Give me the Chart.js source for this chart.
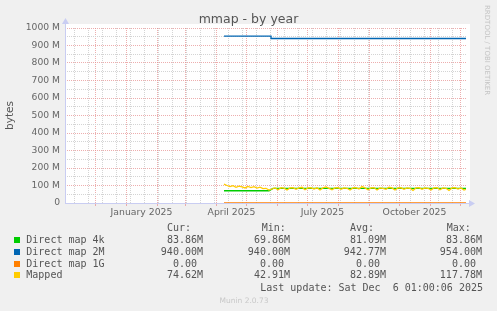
<!DOCTYPE html>
<html>
<head>
<meta charset="utf-8">
<title>mmap - by year</title>
<script src="https://cdn.jsdelivr.net/npm/chart.js@4.4.1/dist/chart.umd.min.js"></script>
<style>
  html, body { margin: 0; padding: 0; background: #f0f0f0; }
  #wrap { position: relative; width: 497px; height: 311px; overflow: hidden; }
  #chart { position: absolute; left: 0; top: 0; }
  .mono { position: absolute; white-space: pre; color: #555; font-family: "DejaVu Sans Mono", monospace; font-size: 10px; line-height: 12px; }
  .right { text-align: right; }
  .swatch { position: absolute; width: 6px; height: 6px; }
  #title { position: absolute; left: 0; width: 497px; top: 11px; text-align: center; font-family: "DejaVu Sans", sans-serif; font-size: 12.5px; color: #555; }
  #rrd { position: absolute; left: 483px; top: 5px; writing-mode: vertical-rl; font-family: "DejaVu Sans", sans-serif; font-size: 7px; color: #c4c4c4; }
  #munin { position: absolute; left: 0; width: 488px; top: 296px; text-align: center; font-family: "DejaVu Sans", sans-serif; font-size: 7.5px; color: #c8c8c8; }
</style>
</head>
<body>
<div id="wrap">
  <canvas id="chart" width="497" height="311"></canvas>
  <div id="title">mmap - by year</div>
  <div id="rrd">RRDTOOL / TOBI OETIKER</div>
  <div id="munin">Munin 2.0.73</div>
</div>
<script>
// x axis is in days since Nov 1 2024 (the start of the 400 day window)
var labelDays = [76.5, 166.5, 257.5, 349.5];
var labelTexts = ['January 2025', 'April 2025', 'July 2025', 'October 2025'];
var monthDays = [30, 61, 92, 120, 151, 181, 212, 242, 273, 304, 334, 365, 395];
var minorDays = [9, 23, 37, 51, 65, 79, 93, 107, 121, 135, 149, 163, 177, 191, 205, 219, 233, 247, 261, 275, 289, 303, 317, 331, 345, 359, 373, 387];
var yTicks = [0, 50, 100, 150, 200, 250, 300, 350, 400, 450, 500, 550, 600, 650, 700, 750, 800, 850, 900, 950, 1000];

// series values in M (bytes / 1e6)
var days4k = [159, 204, 208, 401];
var direct4k = [69.86, 69.86, 83.86, 83.86];
var days2M = [159, 206, 206, 401];
var direct2M = [954, 954, 940, 940];
var days1G = [159, 401];
var direct1G = [0, 0];
var mappedDays = [159, 162, 165, 168, 171, 174, 177, 180, 183, 186, 189, 192, 195, 198, 201, 204,
  207, 210, 213, 216, 219, 222, 225, 228, 231, 234, 237, 240, 243, 246, 249, 252, 255, 258, 261, 264,
  267, 270, 273, 276, 279, 282, 285, 288, 291, 294, 297, 300, 303, 306, 309, 312, 315, 318, 321, 324,
  327, 330, 333, 336, 339, 342, 345, 348, 351, 354, 357, 360, 363, 366, 369, 372, 375, 378, 381, 384,
  387, 390, 393, 396, 399, 401];
var mapped = [108, 100, 94, 99, 90, 96, 92, 86, 95, 88, 93, 85, 90, 82, 84, 74,
  80, 86, 76, 88, 85, 74, 86, 88, 78, 86, 90, 76, 86, 88, 80, 87, 74, 86, 92, 84,
  76, 86, 88, 78, 86, 84, 74, 86, 88, 80, 94, 86, 76, 86, 88, 74, 86, 84, 78, 90,
  86, 74, 86, 88, 78, 86, 84, 72, 86, 88, 78, 86, 84, 74, 86, 88, 76, 86, 84, 72,
  86, 88, 80, 86, 74, 78];

// legend table
var names = ['Direct map 4k', 'Direct map 2M', 'Direct map 1G', 'Mapped'];
var colors = ['#00cc00', '#0066b3', '#ff8000', '#ffcc00'];
var curVals = ['83.86M', '940.00M', '0.00 ', '74.62M'];
var minVals = ['69.86M', '940.00M', '0.00 ', '42.91M'];
var avgVals = ['81.09M', '942.77M', '0.00 ', '82.89M'];
var maxVals = ['83.86M', '954.00M', '0.00 ', '117.78M'];
var lastUpdate = 'Last update: Sat Dec  6 01:00:06 2025';

function pts(xs, ys) {
  return xs.map(function (x, i) { return { x: x, y: ys[i] }; });
}

var axisColor = '#c9cdf2';
var majorGrid = 'rgba(230,140,140,0.7)';
var minorGrid = '#d4d4d4';

var bgPlugin = {
  id: 'rrdFrame',
  beforeDraw: function (chart) {
    var a = chart.chartArea, c = chart.ctx;
    c.save();
    c.fillStyle = '#ffffff';
    c.fillRect(a.left, a.top - 4, a.right - a.left + 4, a.bottom - a.top + 4);
    c.restore();
  },
  afterDraw: function (chart) {
    var a = chart.chartArea, c = chart.ctx;
    c.save();
    c.strokeStyle = axisColor;
    c.fillStyle = axisColor;
    c.lineWidth = 1;
    c.beginPath();
    c.moveTo(a.left + 0.5, a.bottom);
    c.lineTo(a.left + 0.5, a.top - 5);
    c.moveTo(a.left, a.bottom + 0.5);
    c.lineTo(a.right + 5, a.bottom + 0.5);
    c.stroke();
    c.beginPath();
    c.moveTo(a.left - 3, a.top - 4);
    c.lineTo(a.left + 4, a.top - 4);
    c.lineTo(a.left + 0.5, a.top - 10);
    c.closePath();
    c.fill();
    c.beginPath();
    c.moveTo(a.right + 3, a.bottom - 3);
    c.lineTo(a.right + 3, a.bottom + 4);
    c.lineTo(a.right + 9, a.bottom + 0.5);
    c.closePath();
    c.fill();
    c.restore();
  }
};

function line(label, data, color, order) {
  return {
    label: label,
    data: data,
    borderColor: color,
    backgroundColor: color,
    borderWidth: 1.3,
    pointRadius: 0,
    tension: 0,
    fill: false,
    order: order
  };
}

var ctx = document.getElementById('chart').getContext('2d');
new Chart(ctx, {
  type: 'line',
  data: {
    datasets: [
      line(names[0], pts(days4k, direct4k), colors[0], 3),
      line(names[1], pts(days2M, direct2M), colors[1], 2),
      line(names[2], pts(days1G, direct1G), colors[2], 1),
      line(names[3], pts(mappedDays, mapped), colors[3], 0)
    ]
  },
  options: {
    responsive: false,
    animation: false,
    events: [],
    layout: { padding: { left: 0, top: 28, right: 31, bottom: 88 } },
    plugins: { legend: { display: false }, tooltip: { enabled: false }, title: { display: false } },
    scales: {
      x: {
        type: 'linear',
        min: 0,
        max: 401,
        afterBuildTicks: function (s) {
          var all = monthDays.concat(minorDays, labelDays).sort(function (p, q) { return p - q; });
          s.ticks = all.map(function (v) { return { value: v }; });
        },
        afterFit: function (s) { s.height = 20; },
        grid: {
          drawTicks: true,
          tickLength: 3,
          color: function (c) {
            var v = c.tick ? c.tick.value : null;
            if (monthDays.indexOf(v) >= 0) return majorGrid;
            if (minorDays.indexOf(v) >= 0) return minorGrid;
            return 'rgba(0,0,0,0)';
          },
          tickColor: function (c) {
            var v = c.tick ? c.tick.value : null;
            return monthDays.indexOf(v) >= 0 ? majorGrid : 'rgba(0,0,0,0)';
          }
        },
        border: { display: false, dash: [1, 1] },
        ticks: {
          autoSkip: false,
          maxRotation: 0,
          padding: 1,
          color: '#666',
          font: { family: 'DejaVu Sans', size: 9.3 },
          callback: function (v) {
            var i = labelDays.indexOf(v);
            return i >= 0 ? labelTexts[i] : '';
          }
        }
      },
      y: {
        min: 0,
        max: 1000,
        afterBuildTicks: function (s) {
          s.ticks = yTicks.map(function (v) { return { value: v }; });
        },
        afterFit: function (s) { s.width = 65; },
        grid: {
          drawTicks: false,
          color: function (c) {
            var v = c.tick ? c.tick.value : 0;
            return v % 100 === 0 ? majorGrid : minorGrid;
          }
        },
        border: { display: false, dash: [1, 1] },
        title: {
          display: true,
          text: 'bytes',
          color: '#555',
          font: { family: 'DejaVu Sans', size: 10.5 },
          padding: { top: 4, bottom: 0 }
        },
        ticks: {
          autoSkip: false,
          padding: 5,
          color: '#666',
          font: { family: 'DejaVu Sans', size: 9.2 },
          callback: function (v) {
            if (v % 100 !== 0) return '';
            return v === 0 ? '0' : v + ' M';
          }
        }
      }
    }
  },
  plugins: [bgPlugin]
});

// legend below the graph, laid out like rrdtool's gprint columns
var wrap = document.getElementById('wrap');
function put(text, left, top, rightEdge) {
  var d = document.createElement('div');
  d.className = 'mono' + (rightEdge ? ' right' : '');
  d.textContent = text;
  d.style.top = top + 'px';
  if (rightEdge) { d.style.left = (rightEdge - 260) + 'px'; d.style.width = '260px'; }
  else d.style.left = left + 'px';
  wrap.appendChild(d);
}
var headTop = 221.5;
put('Cur:', 167, headTop);
put('Min:', 261.7, headTop);
put('Avg:', 350, headTop);
put('Max:', 446.7, headTop);
var rowTops = [234, 246, 257.7, 269.3];
names.forEach(function (n, i) {
  var sw = document.createElement('div');
  sw.className = 'swatch';
  sw.style.left = '14px';
  sw.style.top = (rowTops[i] + 3) + 'px';
  sw.style.background = colors[i];
  wrap.appendChild(sw);
  put(n, 26.3, rowTops[i]);
  put(curVals[i], 0, rowTops[i], 203);
  put(minVals[i], 0, rowTops[i], 290);
  put(avgVals[i], 0, rowTops[i], 386);
  put(maxVals[i], 0, rowTops[i], 482);
});
put(lastUpdate, 0, 282.3, 483);
</script>
</body>
</html>
